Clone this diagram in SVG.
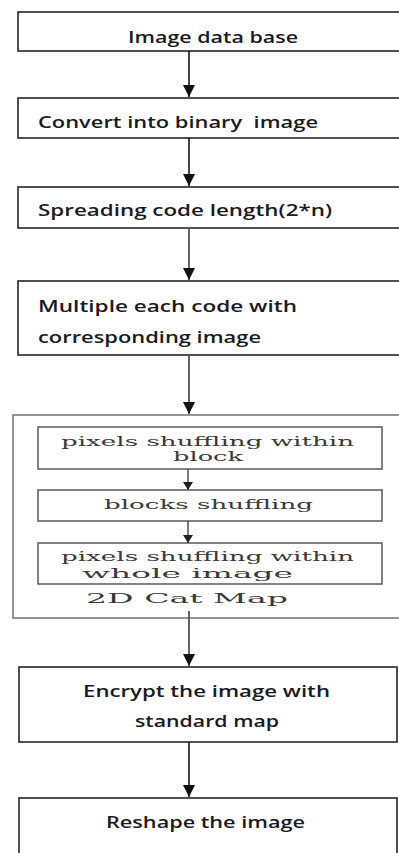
<svg xmlns="http://www.w3.org/2000/svg" width="399" height="853" viewBox="0 0 399 853">
<style>
.box{fill:#fff;stroke:#262626;stroke-width:1.6}
.outer{fill:#fff;stroke:#7a7a7a;stroke-width:1.6}
.inner{fill:#fff;stroke:#5a5a5a;stroke-width:1.5}
.t{font-family:"Open Sans","Liberation Sans",sans-serif;font-weight:600;font-size:17px;fill:#1a1a24}
.s{font-family:"DejaVu Serif","Liberation Serif",serif;font-size:12.5px;fill:#3a3a3a}
.c{stroke:#1a1a1a;stroke-width:1.6;fill:none}
.cg{stroke:#555;stroke-width:1.8;fill:none}
.ci{stroke:#444;stroke-width:1.4;fill:none}
</style>
<defs>
<marker id="ah" markerUnits="userSpaceOnUse" viewBox="0 0 12 12" refX="12" refY="6" markerWidth="12" markerHeight="12" orient="auto">
<path d="M0,0 L12,6 L0,12 z" fill="#111"/>
</marker>
<marker id="ahs" markerUnits="userSpaceOnUse" viewBox="0 0 8 10" refX="8" refY="5" markerWidth="8" markerHeight="10" orient="auto">
<path d="M0,0 L8,5 L0,10 z" fill="#222"/>
</marker>
</defs>
<rect width="399" height="853" fill="#fff"/>
<g id="n1">
<rect class="box" x="18" y="12" width="400" height="39"/>
<text class="t" x="128" y="43" textLength="170" lengthAdjust="spacingAndGlyphs">Image data base</text>
</g>
<g id="n2">
<rect class="box" x="18" y="98" width="400" height="40"/>
<text class="t" x="38" y="128" textLength="280" lengthAdjust="spacingAndGlyphs" xml:space="preserve">Convert into binary  image</text>
</g>
<g id="n3">
<rect class="box" x="18" y="187" width="400" height="41"/>
<text class="t" x="38" y="216" textLength="294" lengthAdjust="spacingAndGlyphs">Spreading code length(2*n)</text>
</g>
<g id="n4">
<rect class="box" x="18" y="281" width="400" height="74"/>
<text class="t" x="38" y="312" textLength="259" lengthAdjust="spacingAndGlyphs">Multiple each code with</text>
<text class="t" x="38" y="343" textLength="223" lengthAdjust="spacingAndGlyphs">corresponding image</text>
</g>
<g id="n5">
<rect class="outer" x="13" y="415" width="400" height="203"/>
<text class="s" x="86" y="603" textLength="202" lengthAdjust="spacingAndGlyphs">2D Cat Map</text>
</g>
<g id="n5a">
<rect class="inner" x="38" y="427" width="344" height="42"/>
<text class="s" x="61" y="446" textLength="293" lengthAdjust="spacingAndGlyphs">pixels shuffling within</text>
<text class="s" x="173" y="461" textLength="70" lengthAdjust="spacingAndGlyphs">block</text>
</g>
<g id="n5b">
<rect class="inner" x="38" y="490" width="344" height="31"/>
<text class="s" x="104" y="509" textLength="209" lengthAdjust="spacingAndGlyphs">blocks shuffling</text>
</g>
<g id="n5c">
<rect class="inner" x="38" y="543" width="344" height="41"/>
<text class="s" x="61" y="561" textLength="293" lengthAdjust="spacingAndGlyphs">pixels shuffling within</text>
<text class="s" x="82" y="578" textLength="211" lengthAdjust="spacingAndGlyphs">whole image</text>
</g>
<g id="n6">
<rect class="box" x="19" y="667" width="378" height="75"/>
<text class="t" x="83" y="697" textLength="247" lengthAdjust="spacingAndGlyphs">Encrypt the image with</text>
<text class="t" x="135" y="727" textLength="144" lengthAdjust="spacingAndGlyphs">standard map</text>
</g>
<g id="n7">
<rect class="box" x="19" y="798" width="378" height="70"/>
<text class="t" x="106" y="828" textLength="199" lengthAdjust="spacingAndGlyphs">Reshape the image</text>
</g>
<g id="connectors">
<line class="c" x1="189" y1="51" x2="189" y2="97" marker-end="url(#ah)"/>
<line class="c" x1="189" y1="138" x2="189" y2="186" marker-end="url(#ah)"/>
<line class="cg" x1="189" y1="228" x2="189" y2="280" marker-end="url(#ah)"/>
<line class="cg" x1="189" y1="355" x2="189" y2="414" marker-end="url(#ah)"/>
<line class="ci" x1="188" y1="469" x2="188" y2="490" marker-end="url(#ahs)"/>
<line class="ci" x1="188" y1="521" x2="188" y2="543" marker-end="url(#ahs)"/>
<line class="cg" x1="189" y1="611" x2="189" y2="666" marker-end="url(#ah)"/>
<line class="c" x1="189" y1="742" x2="189" y2="797" marker-end="url(#ah)"/>
</g>
</svg>
